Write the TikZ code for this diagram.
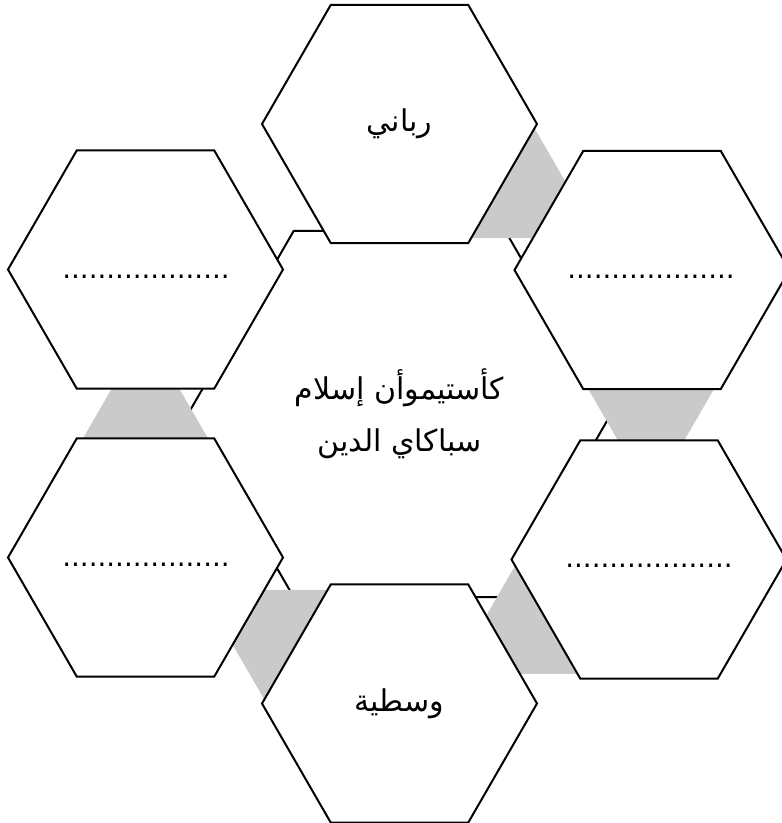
\documentclass[tikz,border=0pt]{standalone}
\usepackage{fontspec}
\setmainfont{DejaVu Sans}
\newfontfamily\arabicfont[Script=Arabic]{DejaVu Sans}
\TeXXeTstate=1
\usetikzlibrary{shapes.geometric}
\definecolor{conngray}{RGB}{202,202,202}
\tikzset{
  hexbase/.style={regular polygon, regular polygon sides=6, inner sep=0pt, outer sep=0pt,
    draw=black, line width=2pt, fill=white, line join=miter},
  hexout/.style={hexbase, minimum size=275pt},
  hexmid/.style={hexbase, minimum size=423pt},
  conn/.style={regular polygon, regular polygon sides=3, minimum size=167.8pt,
    inner sep=0pt, outer sep=0pt, fill=conngray},
  connup/.style={conn},
  conndown/.style={conn, shape border rotate=180},
  artext/.style={font=\arabicfont\fontsize{30}{52}\selectfont, align=center},
  dotline/.style={font=\fontsize{27.7}{30}\selectfont, inner sep=0pt}
}
\begin{document}
\begin{tikzpicture}[x=1pt,y=-1pt]
\useasboundingbox (0,0) rectangle (782,823);
% central hexagon
\node[hexmid, artext] (center) at (399.5,414)
  {\beginR كأستيموأن إسلام\endR\\\beginR سباكاي الدين\endR};
% grey connectors
\node[connup]   (c1) at (525.3,196.1) {};
\node[conndown] (c2) at (651.1,414) {};
\node[connup]   (c3) at (525.3,631.9) {};
\node[conndown] (c4) at (273.7,631.9) {};
\node[connup]   (c5) at (145.5,414) {};
% outer hexagons
\node[hexout, artext] (top) at (399.5,124) {\beginR رباني\endR};
\node[hexout] (ur) at (652,270) {};
\node[hexout] (lr) at (649,559.5) {};
\node[hexout, artext] (bottom) at (399.5,703.5) {\beginR وسطية\endR};
\node[hexout] (ll) at (145.5,557.5) {};
\node[hexout] (ul) at (145.5,269.5) {};
% dotted placeholders
\node[dotline] (dul) at (146,277) {...................};
\node[dotline] (dur) at (651,277) {...................};
\node[dotline] (dll) at (146,565) {...................};
\node[dotline] (dlr) at (649,565.5) {...................};
\end{tikzpicture}
\end{document}
